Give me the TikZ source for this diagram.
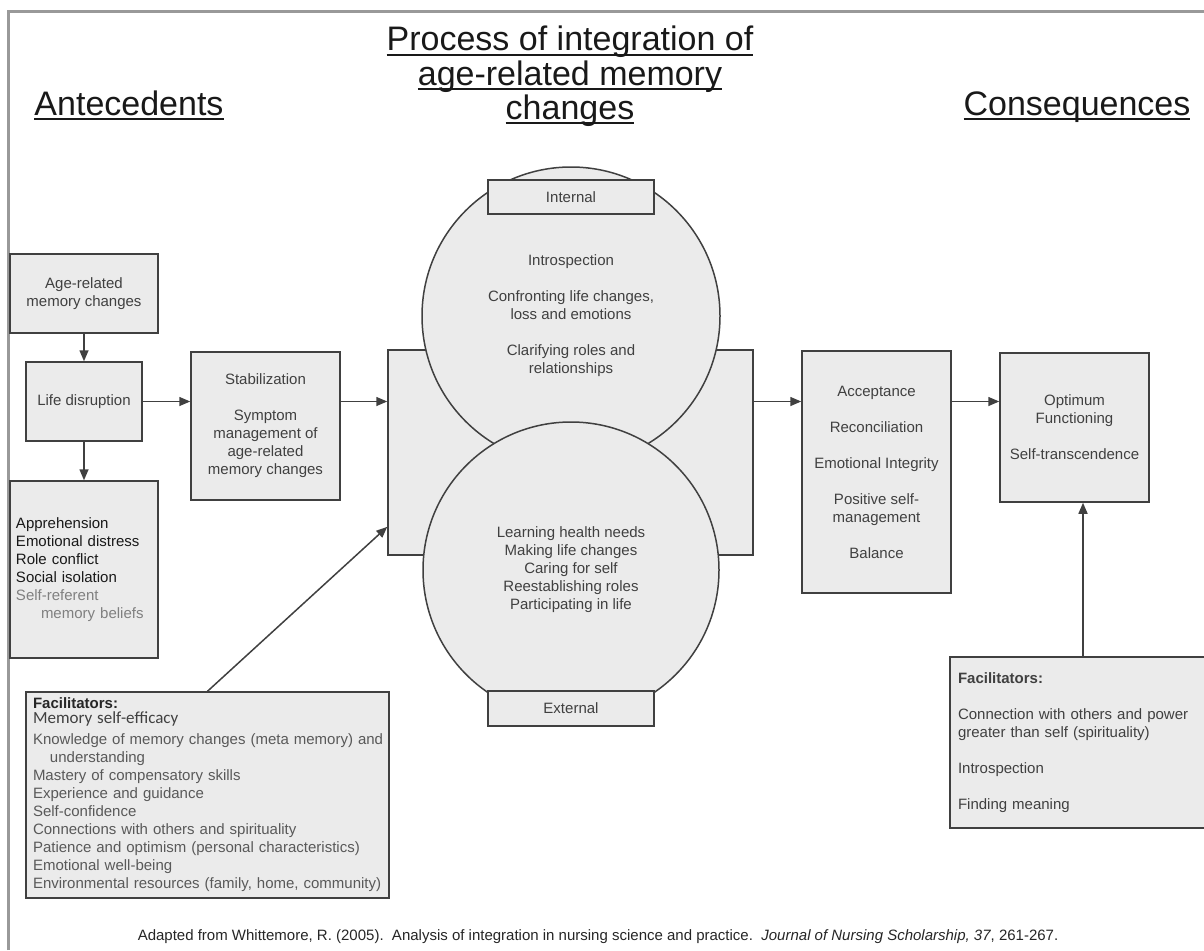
\documentclass[tikz,border=0pt]{standalone}
\usepackage{fontspec}
\setmainfont{Liberation Sans}
\newfontfamily\calibrifont{Carlito}
\usetikzlibrary{arrows.meta,calc}

\newcommand\boxfont{\fontsize{15}{18}\selectfont}
\newcommand\titlefont{\fontsize{34}{35}\selectfont}
\newsavebox\titlebox
\newcommand\titleul[1]{\sbox\titlebox{#1}\rlap{\rule[-5pt]{\wd\titlebox}{1.8pt}}\usebox\titlebox}

\begin{document}
\begin{tikzpicture}[x=1pt, y=-1pt,
		box/.style={draw=boxline, fill=boxfill, line width=1.5pt, inner sep=0pt, align=center, font=\boxfont, text=txt},
		roundbox/.style={box, circle},
		title/.style={anchor=base, font=\titlefont, text=black!90},
		arrow/.style={line width=1.5pt, draw=boxline, -{Triangle[length=11pt,width=9pt]}},
		frame/.style={line width=3pt, draw=black!40}
		]
		
		% ==========================================
		% COLOURS
		% ==========================================
		\colorlet{boxfill}{black!8}
		\colorlet{boxline}{black!75}
		\colorlet{txt}{black!75}
		
		\useasboundingbox (0,0) rectangle (1204,950);
		\draw[frame] (8,950) -- (8,12) -- (1210,12);
		
		% ==========================================
		% HEADINGS
		% ==========================================
		\node[title] (ante) at (129,115) {\titleul{Antecedents}};
		\node[title] (proc1) at (570,51) {\titleul{Process of integration of}};
		\node[title] (proc2) at (570,85) {\titleul{age-related memory}};
		\node[title] (proc3) at (570,119) {\titleul{changes}};
		\node[title] (cons) at (1077,115) {\titleul{Consequences}};
		
		% ==========================================
		% ANTECEDENTS
		% ==========================================
		\node[box, minimum width=148pt, minimum height=79pt] (age) at (84,293.5) {Age-related\\memory changes};
		\node[box, minimum width=116pt, minimum height=79pt] (life) at (84,401.5) {Life disruption};
		\node[box, minimum width=148pt, minimum height=177pt, text width=136pt, align=left] (appr) at (84,569.5)
			{\color{black!90}Apprehension\\Emotional distress\\Role conflict\\Social isolation\\\color{black!50}Self-referent\\\hspace*{25pt}memory beliefs};
		\node[box, minimum width=149pt, minimum height=148pt] (stab) at (265.5,426)
			{Stabilization\\[18pt]Symptom\\management of\\age-related\\memory changes};
		
		% ==========================================
		% PROCESS OF INTEGRATION
		% ==========================================
		\node[box, minimum width=365pt, minimum height=205pt] (band) at (570.5,452.5) {};
		\node[roundbox, minimum size=298pt] (inner) at (571,316)
			{Introspection\\[18pt]Confronting life changes,\\loss and emotions\\[18pt]Clarifying roles and\\relationships};
		\node[roundbox, minimum size=296pt] (outer) at (571,570)
			{Learning health needs\\Making life changes\\Caring for self\\Reestablishing roles\\Participating in life};
		\node[box, minimum width=166pt, minimum height=34pt] (intl) at (571,197) {Internal};
		\node[box, minimum width=166pt, minimum height=35pt] (extl) at (571,708.5) {External};
		
		% ==========================================
		% CONSEQUENCES
		% ==========================================
		\node[box, minimum width=149pt, minimum height=242pt] (acc) at (876.5,472)
			{Acceptance\\[18pt]Reconciliation\\[18pt]Emotional Integrity\\[18pt]Positive self-\\management\\[18pt]Balance};
		\node[box, minimum width=149pt, minimum height=149pt] (opt) at (1074.5,427.5)
			{Optimum\\Functioning\\[18pt]Self-transcendence};
		
		% ==========================================
		% FACILITATORS
		% ==========================================
		\node[box, minimum width=363pt, minimum height=206pt, text width=349pt, align=left, text=black!65] (facl) at (207.5,795)
			{\textcolor{black!85}{\textbf{Facilitators:}}\\[-3pt]{\calibrifont\fontsize{17}{18}\selectfont\color{black!75}Memory self-efficacy}\\[3pt]\mbox{Knowledge of memory changes (meta memory) and}\\\hspace*{17pt}understanding\\Mastery of compensatory skills\\Experience and guidance\\Self-confidence\\Connections with others and spirituality\\Patience and optimism (personal characteristics)\\Emotional well-being\\\mbox{Environmental resources (family, home, community)}};
		\node[box, minimum width=266pt, minimum height=171pt, text width=250pt, align=left] (facr) at (1083,742.5)
			{\textbf{Facilitators:}\\[18pt]Connection with others and power\\greater than self (spirituality)\\[18pt]Introspection\\[18pt]Finding meaning};
		
		% ==========================================
		% CONNECTORS
		% ==========================================
		\draw[arrow] (age) -- (life);
		\draw[arrow] (life) -- (appr);
		\draw[arrow] (life) -- (stab.west |- life);
		\draw[arrow] (stab.east |- life) -- (band.west |- life);
		\draw[arrow] (band.east |- life) -- (acc.west |- life);
		\draw[arrow] (acc.east |- life) -- (opt.west |- life);
		\draw[arrow] (facl.north) -- ($(band.south west)!0.14!(band.north west)$);
		\draw[arrow] (facr.north) -- (facr.north |- opt.south);
		
		% Source line
		\node[anchor=base, font=\boxfont, text=black!85] (src) at (598,940)
			{Adapted from Whittemore, R. (2005).\ \ Analysis of integration in nursing science and practice.\ \ \textit{Journal of Nursing Scholarship, 37}, 261-267.};
		
	\end{tikzpicture}
\end{document}
